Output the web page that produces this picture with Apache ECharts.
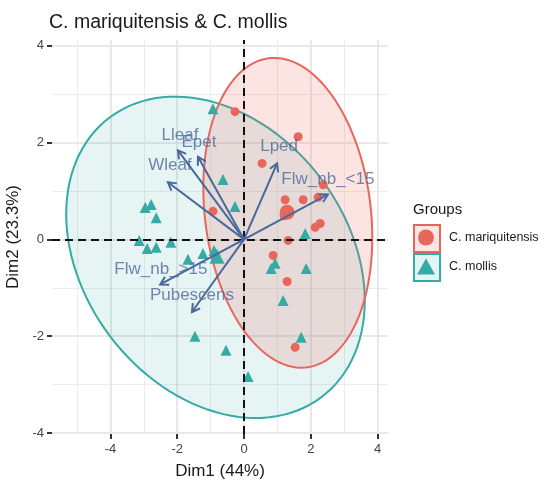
<!DOCTYPE html>
<html><head><meta charset="utf-8">
<script src="https://cdn.jsdelivr.net/npm/echarts@6/dist/echarts.min.js"></script>
<style>html,body{margin:0;padding:0;background:#fff}#c{width:546px;height:486px}</style>
</head><body><div id="c"></div>
<script>
// ---- data ----
const groupNames = ['C. mariquitensis', 'C. mollis'];
const marX = [-0.27, -0.93, 1.62, 0.54, 2.37, 1.23, 1.77, 2.22, 1.29, 1.20, 2.13, 2.28, 1.32, 0.87, 1.29, 1.53];
const marY = [2.64, 0.58, 2.12, 1.57, 1.13, 0.82, 0.82, 0.87, 0.62, 0.49, 0.25, 0.33, -0.02, -0.33, -0.87, -2.23];
const molX = [-0.93, -0.63, -2.96, -2.78, -2.63, -0.27, -3.14, -2.90, -2.63, -2.19, -1.68, -1.23, -0.90, -1.47, -0.54, 0.12, 1.83, 0.81, 0.93, 1.86, 1.17, 1.71];
const molY = [2.70, 1.24, 0.66, 0.72, 0.45, 0.68, -0.02, -0.19, -0.16, -0.06, -0.41, -0.29, -0.23, -2.00, -2.29, -2.83, 0.12, -0.60, -0.49, -0.60, -1.26, -2.02];
const marCentroid = [1.29, 0.56];
const molCentroid = [-0.81, -0.35];
const varNames = ['Lleaf', 'Epet', 'Wleaf', 'Lped', 'Flw_nb_<15', 'Flw_nb_>15', 'Pubescens'];
const varX = [-1.98, -1.38, -2.28, 0.99, 2.51, -2.51, -1.56];
const varY = [1.84, 1.71, 1.18, 1.57, 0.93, -0.93, -1.50];
const varLabelX = [-1.92, -1.35, -2.22, 1.05, 2.51, -2.49, -1.56];
const varLabelY = [2.16, 2.00, 1.53, 1.92, 1.24, -0.62, -1.15];
// ellipse: centre x, centre y, half-extent x, half-extent y, correlation
const marEllipse = [1.31, 0.55, 2.53, 3.20, -0.16];
const molEllipse = [-0.855, -0.37, 4.47, 3.32, -0.27];
const xTicks = [-4, -2, 0, 2, 4];
const xMinor = [-5, -3, -1, 1, 3];
const yTicks = [-4, -2, 0, 2, 4];
const yMinor = [-3, -1, 1, 3];

const RED = '#E8675D', TEAL = '#35ABA6', ARROW = '#4A679B';
const FONT = '"Liberation Sans", Arial, sans-serif';

function ellipsePoints(e) {
  const [cx, cy, hx, hy, r] = e, s = Math.sqrt(1 - r * r), pts = [];
  for (let i = 0; i < 120; i++) {
    const t = 2 * Math.PI * i / 120;
    pts.push([cx + hx * Math.cos(t), cy + hy * (r * Math.cos(t) + s * Math.sin(t))]);
  }
  return pts;
}
function ellipseSeries(e, stroke, fill) {
  const pts = ellipsePoints(e);
  return {
    type: 'custom', silent: true, z: 1, data: [[0, 0]],
    renderItem: (p, api) => ({
      type: 'polygon', shape: { points: pts.map(q => api.coord(q)) },
      style: { fill: fill, stroke: stroke, lineWidth: 2 }
    })
  };
}
function groupData(xs, ys, c) {
  const d = xs.map((x, i) => [x, ys[i], 0]);
  d.push([c[0], c[1], 1]);
  return d;
}
const arrowData = varX.map((x, i) => [x, varY[i]]);

const axisCommon = {
  axisLine: { show: true, onZero: false, lineStyle: { color: 'rgba(0,0,0,0)' } },
  axisTick: { show: true, inside: false, length: 5, lineStyle: { color: '#333', width: 2 } },
  axisLabel: { color: '#444', fontSize: 13, fontFamily: FONT },
  splitLine: { show: true, lineStyle: { color: '#E2E2E2', width: 1.5 } }
};

const option = {
  backgroundColor: '#fff',
  animation: false,
  title: [
    { text: 'C. mariquitensis & C. mollis', left: 44, top: 8, textStyle: { fontSize: 19.5, fontWeight: 'normal', color: '#1a1a1a', fontFamily: FONT } },
    { text: 'Groups', left: 408, top: 197, textStyle: { fontSize: 15, fontWeight: 'normal', color: '#1a1a1a', fontFamily: FONT } }
  ],
  legend: {
    orient: 'vertical', left: 417, top: 229.5, itemWidth: 18, itemHeight: 16, itemGap: 13, padding: 0,
    data: groupNames,
    textStyle: { fontSize: 12.5, color: '#1a1a1a', fontFamily: FONT, padding: [0, 0, 0, 9] },
    selectedMode: false
  },
  graphic: [
    { type: 'rect', left: 413, top: 224, shape: { width: 26, height: 27 }, style: { fill: '#FBE6E4', stroke: RED, lineWidth: 2 } },
    { type: 'rect', left: 413, top: 253, shape: { width: 26, height: 27 }, style: { fill: '#E4F3F3', stroke: TEAL, lineWidth: 2 } }
  ],
  grid: { left: 52, right: 158, top: 40, bottom: 52, containLabel: false, outerBoundsMode: 'none' },
  xAxis: [
    Object.assign({}, axisCommon, {
      type: 'value', min: -5.75, max: 4.31,
      axisTick: Object.assign({}, axisCommon.axisTick, { customValues: xTicks }),
      axisLabel: Object.assign({}, axisCommon.axisLabel, { customValues: xTicks, margin: 9 }),
      name: 'Dim1 (44%)', nameLocation: 'middle', nameGap: 29,
      nameTextStyle: { fontSize: 17, color: '#1a1a1a', fontFamily: FONT }
    }),
    {
      type: 'value', min: -5.75, max: 4.31, position: 'bottom',
      axisLine: { show: false }, axisLabel: { show: false },
      axisTick: { show: false, customValues: xMinor },
      splitLine: { show: true, lineStyle: { color: '#ECECEC', width: 1 } }
    }
  ],
  yAxis: [
    Object.assign({}, axisCommon, {
      type: 'value', min: -4.02, max: 4.12,
      axisTick: Object.assign({}, axisCommon.axisTick, { customValues: yTicks }),
      axisLabel: Object.assign({}, axisCommon.axisLabel, { customValues: yTicks, margin: 8 }),
      name: 'Dim2 (23.3%)', nameLocation: 'middle', nameGap: 26,
      nameTextStyle: { fontSize: 17, color: '#1a1a1a', fontFamily: FONT }
    }),
    {
      type: 'value', min: -4.02, max: 4.12, position: 'left',
      axisLine: { show: false }, axisLabel: { show: false },
      axisTick: { show: false, customValues: yMinor },
      splitLine: { show: true, lineStyle: { color: '#ECECEC', width: 1 } }
    }
  ],
  series: [
    ellipseSeries(molEllipse, TEAL, 'rgba(53,171,166,0.12)'),
    ellipseSeries(marEllipse, RED, 'rgba(232,103,93,0.18)'),
    {
      type: 'line', data: [], z: 3, silent: true,
      markLine: {
        silent: true, symbol: ['none', 'none'], label: { show: false },
        lineStyle: { color: '#111', type: [8, 5], width: 2 },
        data: [{ xAxis: 0 }, { yAxis: 0 }]
      }
    },
    {
      name: groupNames[0], type: 'scatter', z: 4, symbol: 'circle',
      data: groupData(marX, marY, marCentroid),
      symbolSize: v => v[2] ? 15 : 9,
      itemStyle: { color: RED, opacity: 1 }
    },
    {
      name: groupNames[1], type: 'scatter', z: 4, symbol: 'triangle',
      data: groupData(molX, molY, molCentroid),
      symbolSize: v => v[2] ? 15 : 11,
      itemStyle: { color: TEAL, opacity: 1 }
    },
    {
      type: 'custom', z: 5, silent: true, data: arrowData,
      renderItem: (p, api) => {
        const o = api.coord([0, 0]);
        const t = api.coord([api.value(0), api.value(1)]);
        const a = Math.atan2(t[1] - o[1], t[0] - o[0]), L = 9, w = Math.PI / 6;
        const h1 = [t[0] - L * Math.cos(a - w), t[1] - L * Math.sin(a - w)];
        const h2 = [t[0] - L * Math.cos(a + w), t[1] - L * Math.sin(a + w)];
        return {
          type: 'group', children: [
            { type: 'line', shape: { x1: o[0], y1: o[1], x2: t[0], y2: t[1] }, style: { stroke: ARROW, lineWidth: 2 } },
            { type: 'polyline', shape: { points: [h1, t, h2] }, style: { stroke: ARROW, lineWidth: 2, fill: null } }
          ]
        };
      }
    },
    {
      type: 'scatter', z: 6, silent: true, symbolSize: 0,
      data: varNames.map((n, i) => ({ name: n, value: [varLabelX[i], varLabelY[i]] })),
      label: {
        show: true, position: 'inside', formatter: p => p.name,
        color: '#4F699B', fontSize: 17, fontFamily: FONT
      }
    }
  ]
};
const chart = echarts.init(document.getElementById('c'), null, { renderer: 'canvas' });
chart.setOption(option);
</script>
</body></html>
